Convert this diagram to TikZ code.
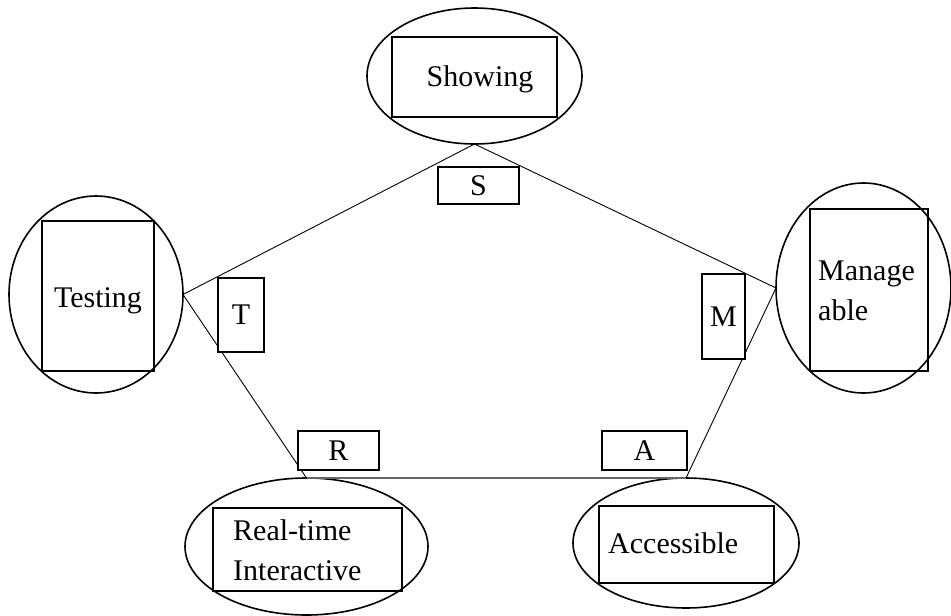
\documentclass[tikz,border=0pt]{standalone}
\usepackage{fontspec}
\setmainfont{Liberation Serif}
\usetikzlibrary{shapes.geometric}
\begin{document}
\begin{tikzpicture}[x=1pt,y=-1pt,
  oval/.style={ellipse,draw,line width=1.6pt,inner sep=0pt,outer sep=0pt},
  frame/.style={rectangle,draw,line width=1.8pt,inner sep=0pt,outer sep=0pt},
  tag/.style={rectangle,draw,line width=1.6pt,inner sep=0pt,outer sep=0pt,font=\fontsize{30}{36}\selectfont},
  txt/.style={inner sep=0pt,font=\fontsize{30}{40}\selectfont,align=left},
  edge/.style={line width=0.9pt},
  baseedge/.style={line width=1.3pt,draw=black!60}]
\useasboundingbox (0,0) rectangle (951,616);

% ovals
\node[oval,minimum width=215pt,minimum height=136pt] (shO) at (474.5,76) {};
\node[oval,minimum width=174pt,minimum height=197pt] (teO) at (96,294.5) {};
\node[oval,minimum width=175pt,minimum height=210pt] (maO) at (863.5,288) {};
\node[oval,minimum width=243pt,minimum height=137pt] (rtO) at (306.5,546.5) {};
\node[oval,minimum width=226pt,minimum height=130pt] (acO) at (686,543) {};

% frames
\node[frame,minimum width=165pt,minimum height=80pt] (shR) at (474.5,77) {};
\node[frame,minimum width=112pt,minimum height=150pt] (teR) at (98,296) {};
\node[frame,minimum width=118pt,minimum height=162pt] (maR) at (869,290) {};
\node[frame,minimum width=189pt,minimum height=83pt] (rtR) at (307.5,549.5) {};
\node[frame,minimum width=175pt,minimum height=77pt] (acR) at (686.5,544.5) {};

% texts (base = baseline of last line)
\node[txt,anchor=base] (shT) at (480,86) {Showing};
\node[txt,anchor=base] (teT) at (98,307) {Testing};
\node[txt,anchor=base west] (maT) at (818,320) {Manage\\able};
\node[txt,anchor=base west] (rtT) at (233,580) {Real-time\\Interactive};
\node[txt,anchor=base west] (acT) at (608,553) {Accessible};

% pentagon
\draw[edge] (shO.south) -- (teO.east);
\draw[edge] (teO.east) -- (rtO.north);
\draw[baseedge] (rtO.north) -- (acO.north);
\draw[edge] (acO.north) -- (maO.west);
\draw[edge] (maO.west) -- (shO.south);

% tags
\node[tag,fill=white,minimum width=81pt,minimum height=37pt] (S) at (478.5,185.5) {S};
\node[tag,fill=white,minimum width=46pt,minimum height=74pt] (T) at (241,315) {T};
\node[tag,fill=white,minimum width=43pt,minimum height=85pt] (M) at (723.5,316.5) {M};
\node[tag,fill=white,minimum width=81pt,minimum height=39pt] (R) at (338.5,450.5) {R};
\node[tag,fill=white,minimum width=85pt,minimum height=39pt] (A) at (644.5,450.5) {A};
\end{tikzpicture}
\end{document}
